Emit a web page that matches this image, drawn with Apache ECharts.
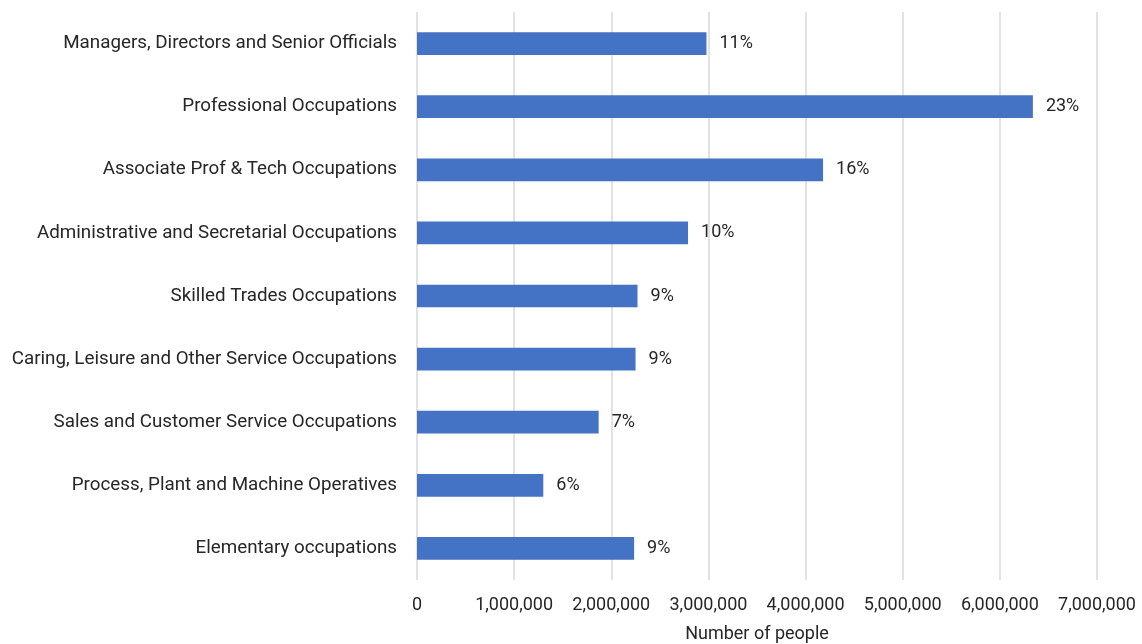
<!DOCTYPE html>
<html>
<head>
<meta charset="utf-8">
<script src="https://cdn.jsdelivr.net/npm/echarts@6/dist/echarts.min.js"></script>
<style>
  html, body { margin: 0; padding: 0; background: #fff; }
  #chart { width: 1142px; height: 644px; }
</style>
</head>
<body>
<div id="chart"></div>
<script>
// Occupation groups, top to bottom
const occupations = [
  'Managers, Directors and Senior Officials',
  'Professional Occupations',
  'Associate Prof & Tech Occupations',
  'Administrative and Secretarial Occupations',
  'Skilled Trades Occupations',
  'Caring, Leisure and Other Service Occupations',
  'Sales and Customer Service Occupations',
  'Process, Plant and Machine Operatives',
  'Elementary occupations'
];

// Number of people in each group
const people = [2980000, 6340000, 4180000, 2790000, 2270000, 2250000, 1870000, 1300000, 2235000];

// Share of all people, shown beside each bar
const shares = ['11%', '23%', '16%', '10%', '9%', '9%', '7%', '6%', '9%'];

const FONT = 'Roboto, "Noto Sans", sans-serif';
const TEXT = '#262626';
const SIZE = 18;

const chart = echarts.init(document.getElementById('chart'), null, { renderer: 'canvas' });

chart.setOption({
  animation: false,
  grid: {
    left: 417, right: 45, top: 12, bottom: 64,
    containLabel: false,
    outerBoundsMode: 'none'
  },
  xAxis: {
    type: 'value',
    min: 0,
    max: 7000000,
    interval: 1000000,
    name: 'Number of people',
    nameLocation: 'middle',
    nameGap: 45,
    nameTextStyle: { fontFamily: FONT, fontSize: SIZE, color: TEXT },
    axisLine: { show: false },
    axisTick: { show: false },
    axisLabel: {
      fontFamily: FONT, fontSize: SIZE, color: TEXT, margin: 16,
      formatter: v => v.toLocaleString('en-US')
    },
    splitLine: { show: true, lineStyle: { color: '#d9d9d9', width: 1.5 } }
  },
  yAxis: {
    type: 'category',
    data: occupations,
    inverse: true,
    axisLine: { show: false },
    axisTick: { show: false },
    axisLabel: { fontFamily: FONT, fontSize: 18.8, color: TEXT, margin: 20 }
  },
  series: [{
    type: 'bar',
    data: people,
    barWidth: '36%',
    itemStyle: { color: '#4472C4' },
    label: {
      show: true,
      position: 'right',
      distance: 13,
      fontFamily: FONT,
      fontSize: SIZE,
      color: TEXT,
      formatter: p => shares[p.dataIndex]
    }
  }]
});
</script>
</body>
</html>
